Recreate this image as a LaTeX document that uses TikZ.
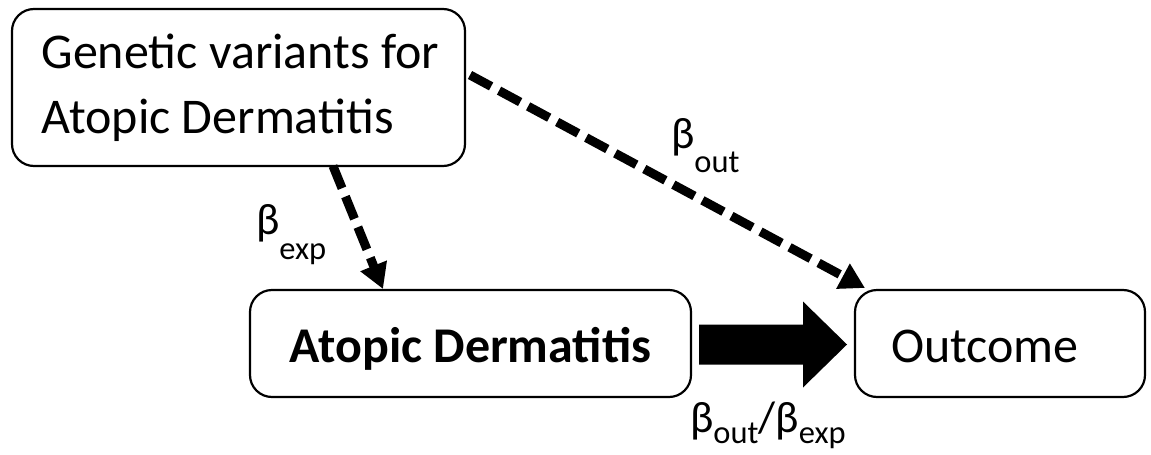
\documentclass[tikz,border=0pt]{standalone}
\usepackage{fontspec}
\setmainfont{Carlito}
\usetikzlibrary{arrows.meta,calc}

% text sizes used in the figure
\newcommand{\boxsz}{\fontsize{50}{65}\selectfont\spaceskip=0pt\xspaceskip=0pt}
\newcommand{\betasz}{\fontsize{44}{44}\selectfont}
\newcommand{\subsz}{\fontsize{32.5}{32.5}\selectfont}
% beta with a lowered subscript: #1 = drop, #2 = subscript text
\newcommand{\betasub}[2]{β\raisebox{-#1}{\subsz #2}}

\begin{document}
\begin{tikzpicture}[x=1pt,y=-1pt,
  every node/.style={inner sep=0pt, outer sep=0pt},
  varbox/.style={draw=black, line width=2.2pt, rounded corners=22pt,
    font=\boxsz, fill=white},
  lbl/.style={font=\betasz, anchor=base west},
  dasharrow/.style={line width=9pt, dash pattern=on 24pt off 9pt,
    -{Triangle[length=25pt,width=27pt]}},
]
\useasboundingbox (0,0) rectangle (1151,455);

% boxes
\node[varbox, minimum width=453pt, minimum height=157pt,
      text width=394pt, align=flush left] (gen) at (238.5,87.5)
  {\spaceskip=0pt\mbox{Genetic variants for}\\\mbox{Atopic Dermatitis}};
\node[varbox, minimum width=441pt, minimum height=107pt,
      text height=37pt, text depth=0pt, font=\boxsz\bfseries] (ad) at (470.5,343.5)
  {Atopic Dermatitis};
\node[varbox, minimum width=290pt, minimum height=107pt,
      text width=218pt, align=flush left, text height=37pt, text depth=0pt] (out) at (1000,343.5)
  {Outcome};

% dashed causal paths
\draw[dasharrow] ($(gen.south west)+(321,0)$) -- ($(ad.north west)+(133,-1)$);
\draw[dasharrow] ($(gen.north east)+(5,66)$) -- ($(out.north west)+(10,-2)$);

% solid block arrow between exposure and outcome
\fill ($(ad.east)+(8,-19)$) -- ++(104,0) -- ++(0,-23) -- ++(44,43)
      -- ++(-44,43) -- ++(0,-23) -- ++(-104,0) -- cycle;

% effect labels
\node[lbl] (bexp) at (256,234) {\betasub{25pt}{exp}};
\node[lbl] (bout) at (671,148) {\betasub{24pt}{out}};
\node[lbl] (ratio) at (690,432) {\betasub{11pt}{out}/\betasub{11pt}{exp}};
\end{tikzpicture}
\end{document}
